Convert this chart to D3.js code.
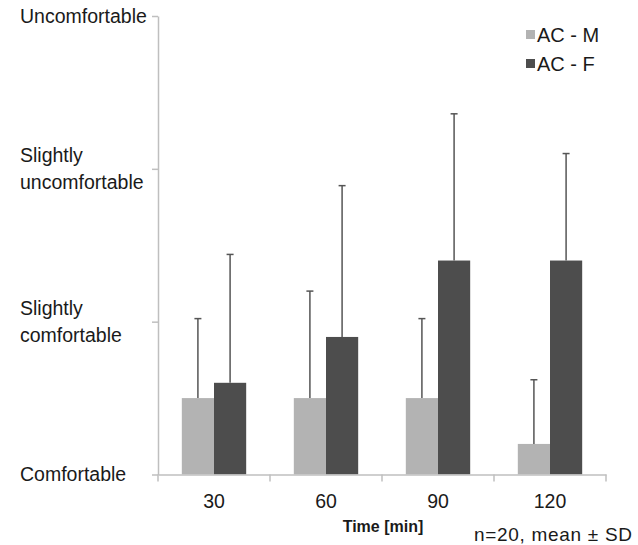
<!DOCTYPE html>
<html>
<head>
<meta charset="utf-8">
<script src="https://cdn.jsdelivr.net/npm/d3@7"></script>
<style>
  body { margin: 0; background: #fff; }
  text { font-family: "Liberation Sans", Arial, sans-serif; fill: #1a1a1a; }
</style>
</head>
<body>
<script>
// data
var categories = ["30", "60", "90", "120"];
var series = ["AC - M", "AC - F"];
var acM = [0.5, 0.5, 0.5, 0.2];
var acF = [0.6, 0.9, 1.4, 1.4];
var sdM = [0.52, 0.70, 0.52, 0.42];
var sdF = [0.84, 0.99, 0.96, 0.70];
var levelValues = [0, 1, 2, 3];
var levelLabels = [["Comfortable"], ["Slightly", "comfortable"], ["Slightly", "uncomfortable"], ["Uncomfortable"]];

var width = 638, height = 545;
var colors = { "AC - M": "#b3b3b3", "AC - F": "#4d4d4d" };

var svg = d3.select("body").append("svg")
    .attr("width", width)
    .attr("height", height);

var x = d3.scaleBand().domain(categories).range([158, 606]).padding(0);
var xs = d3.scaleBand().domain(series).range([0, x.bandwidth()])
    .paddingInner(0).paddingOuter(0.74);
var y = d3.scaleLinear().domain([0, 3]).range([474.5, 16]);

var rows = categories.map(function (c, i) {
    return [
        { cat: c, s: "AC - M", v: acM[i], sd: sdM[i] },
        { cat: c, s: "AC - F", v: acF[i], sd: sdF[i] }
    ];
});
var flat = [].concat.apply([], rows);

// bars
svg.append("g").selectAll("rect")
    .data(flat)
    .enter().append("rect")
    .attr("x", function (d) { return x(d.cat) + xs(d.s); })
    .attr("width", xs.bandwidth())
    .attr("y", function (d) { return y(d.v); })
    .attr("height", function (d) { return y(0) - y(d.v); })
    .attr("fill", function (d) { return colors[d.s]; });

// error bars (upper only)
var err = svg.append("g").attr("stroke", "#555").attr("stroke-width", 1.5);
err.selectAll("line.v")
    .data(flat)
    .enter().append("line")
    .attr("class", "v")
    .attr("x1", function (d) { return x(d.cat) + xs(d.s) + xs.bandwidth() / 2; })
    .attr("x2", function (d) { return x(d.cat) + xs(d.s) + xs.bandwidth() / 2; })
    .attr("y1", function (d) { return y(d.v); })
    .attr("y2", function (d) { return y(d.v + d.sd); });
err.selectAll("line.c")
    .data(flat)
    .enter().append("line")
    .attr("class", "c")
    .attr("x1", function (d) { return x(d.cat) + xs(d.s) + xs.bandwidth() / 2 - 3.5; })
    .attr("x2", function (d) { return x(d.cat) + xs(d.s) + xs.bandwidth() / 2 + 3.5; })
    .attr("y1", function (d) { return y(d.v + d.sd); })
    .attr("y2", function (d) { return y(d.v + d.sd); });

// y axis
var yAxis = svg.append("g")
    .attr("transform", "translate(158,0)")
    .call(d3.axisLeft(y).tickValues(levelValues).tickSize(6).tickSizeOuter(0).tickFormat(""));
yAxis.selectAll("path, line").attr("stroke", "#bfbfbf").attr("stroke-width", 1.5);

// y labels, left aligned, centred on the tick
var lineH = 27;
svg.append("g").selectAll("text")
    .data(levelValues)
    .enter().append("text")
    .attr("x", 20)
    .attr("y", function (d, i) { return y(d) - (levelLabels[i].length - 1) * lineH / 2; })
    .style("font-size", "19.5px")
    .each(function (d, i) {
        var t = d3.select(this);
        levelLabels[i].forEach(function (s, k) {
            t.append("tspan").attr("x", 20).attr("dy", k === 0 ? "0.35em" : lineH).text(s);
        });
    });

// x axis
var xAxis = svg.append("g")
    .attr("transform", "translate(0," + y(0) + ")")
    .call(d3.axisBottom(x).tickSize(0).tickSizeOuter(0));
xAxis.select(".domain").attr("stroke", "#bfbfbf").attr("stroke-width", 1.5);
xAxis.selectAll("text")
    .attr("dy", null)
    .attr("y", 33)
    .style("font-size", "19.5px")
    .style("font-family", "Liberation Sans, Arial, sans-serif")
    .attr("fill", "#1a1a1a");
// boundary ticks between categories
xAxis.selectAll("line.sep")
    .data(categories)
    .enter().append("line")
    .attr("class", "sep")
    .attr("x1", function (d) { return x(d) + x.bandwidth(); })
    .attr("x2", function (d) { return x(d) + x.bandwidth(); })
    .attr("y1", 0)
    .attr("y2", 7)
    .attr("stroke", "#bfbfbf")
    .attr("stroke-width", 1.5);
xAxis.append("line")
    .attr("x1", 158).attr("x2", 158).attr("y1", 0).attr("y2", 7)
    .attr("stroke", "#bfbfbf").attr("stroke-width", 1.5);

// axis title and note
svg.append("text")
    .attr("x", 383)
    .attr("y", 532)
    .attr("text-anchor", "middle")
    .style("font-size", "16px")
    .style("font-weight", "bold")
    .text("Time [min]");

svg.append("text")
    .attr("x", 474)
    .attr("y", 541)
    .attr("textLength", 158)
    .attr("lengthAdjust", "spacing")
    .style("font-size", "19px")
    .text("n=20, mean \u00b1 SD");

// legend
var legend = svg.append("g").selectAll("g")
    .data(series)
    .enter().append("g")
    .attr("transform", function (d, i) { return "translate(526," + (30 + i * 29) + ")"; });
legend.append("rect")
    .attr("width", 9)
    .attr("height", 9)
    .attr("fill", function (d) { return colors[d]; });
legend.append("text")
    .attr("x", 11)
    .attr("y", 11.5)
    .style("font-size", "20px")
    .text(function (d) { return d; });
</script>
</body>
</html>
